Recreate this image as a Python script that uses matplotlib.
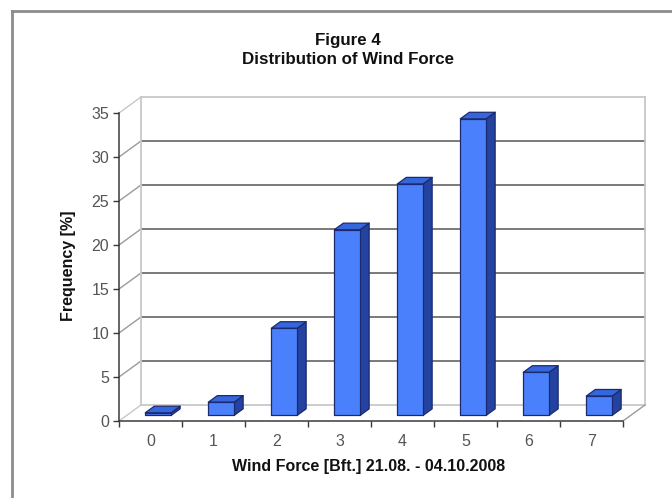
import matplotlib
matplotlib.use("Agg")
import matplotlib.pyplot as plt
from matplotlib.patches import Polygon
from matplotlib.lines import Line2D
from matplotlib.transforms import IdentityTransform

# Wind force distribution (Beaufort classes) and relative frequency in percent
categories = ["0", "1", "2", "3", "4", "5", "6", "7"]
frequency = [0.3, 1.5, 9.9, 21.1, 26.3, 33.7, 4.9, 2.2]
y_ticks = [0, 5, 10, 15, 20, 25, 30, 35]

title_lines = ["Figure 4", "Distribution of Wind Force"]
x_label = "Wind Force [Bft.] 21.08. - 04.10.2008"
y_label = "Frequency [%]"

plt.rcParams["font.family"] = ["Liberation Sans", "DejaVu Sans"]

W, H = 672, 498
fig = plt.figure(figsize=(W / 100, H / 100), dpi=100)
fig.patch.set_facecolor("white")

# front plane of the 3-D box (pixel geometry)
left, right, bottom, top = 119, 623, 421, 113
ax = fig.add_axes([left / W, (H - bottom) / H, (right - left) / W, (bottom - top) / H])
ax.set_xlim(-0.5, len(categories) - 0.5)
ax.set_ylim(0, 35)
ax.patch.set_visible(False)
for s in ("top", "right"):
    ax.spines[s].set_visible(False)
for s in ("left", "bottom"):
    ax.spines[s].set_color("#3a3a3a")
    ax.spines[s].set_linewidth(1.1)

ax.set_yticks(y_ticks)
ax.set_yticklabels([str(v) for v in y_ticks])
ax.set_xticks(range(len(categories)))
ax.set_xticklabels(categories)
ax.set_xticks([i - 0.5 for i in range(len(categories) + 1)], minor=True)
ax.tick_params(axis="y", direction="out", length=4, width=1, color="#3a3a3a",
               labelsize=11.5, labelcolor="#555555", pad=3)
ax.tick_params(axis="x", which="major", length=0, labelsize=11.5,
               labelcolor="#555555", pad=9)
ax.tick_params(axis="x", which="minor", direction="out", length=4, width=1,
               color="#3a3a3a")

# oblique depth offset in pixels (full depth of the box)
DX, DY = 22, 16


def proj(x, y, d):
    px, py = ax.transData.transform((x, y))
    return (px + DX * d, py + DY * d)


def seg(p, q, color, lw, z=1):
    ax.add_line(Line2D([p[0], q[0]], [p[1], q[1]], transform=IdentityTransform(),
                       color=color, lw=lw, zorder=z, clip_on=False))


x0, x1 = -0.5, len(categories) - 0.5
edge = "#c8c8c8"
grid = "#707070"

# back wall gridlines and side wall diagonals
for v in y_ticks:
    c = edge if v in (0, 35) else grid
    seg(proj(x0, v, 1), proj(x1, v, 1), c, 1.3)
    seg(proj(x0, v, 0), proj(x0, v, 1), "#9a9a9a" if v not in (0, 35) else edge, 1.0)
# wall and floor edges
seg(proj(x0, 0, 1), proj(x0, 35, 1), edge, 1.3)
seg(proj(x1, 0, 1), proj(x1, 35, 1), edge, 1.3)
seg(proj(x1, 0, 0), proj(x1, 0, 1), "#9a9a9a", 1.0)

# 3-D columns
bw = 0.41
d0, d1 = 0.35, 0.76
front_c, side_c, top_c, line_c = "#4a80fb", "#2443a0", "#3566dc", "#1b2a6e"
for i, v in enumerate(frequency):
    a, b = i - bw / 2, i + bw / 2
    faces = [
        ([proj(b, 0, d0), proj(b, v, d0), proj(b, v, d1), proj(b, 0, d1)], side_c),
        ([proj(a, v, d0), proj(b, v, d0), proj(b, v, d1), proj(a, v, d1)], top_c),
        ([proj(a, 0, d0), proj(b, 0, d0), proj(b, v, d0), proj(a, v, d0)], front_c),
    ]
    for pts, col in faces:
        ax.add_patch(Polygon(pts, closed=True, transform=IdentityTransform(),
                             facecolor=col, edgecolor=line_c, lw=0.9,
                             joinstyle="round", zorder=3, clip_on=False))

# titles and axis labels
fig.text(348 / W, 1 - 41 / H, title_lines[0], ha="center", va="center",
         fontsize=12.2, fontweight="bold", color="#111111")
fig.text(348 / W, 1 - 59 / H, title_lines[1], ha="center", va="center",
         fontsize=12.2, fontweight="bold", color="#111111")
fig.text(369 / W, 1 - 466 / H, x_label, ha="center", va="center",
         fontsize=11.5, fontweight="bold", color="#111111")
fig.text(68 / W, 1 - 266 / H, y_label, ha="center", va="center", rotation=90,
         fontsize=11.5, fontweight="bold", color="#111111")

# chart area frame
fig.add_artist(Line2D([12 / W, 12 / W], [0, 1 - 11 / H], transform=fig.transFigure,
                      color="#8c8c8c", lw=2))
fig.add_artist(Line2D([12 / W, 1], [1 - 11 / H, 1 - 11 / H], transform=fig.transFigure,
                      color="#8c8c8c", lw=2))

fig.savefig("out.png", dpi=100)
